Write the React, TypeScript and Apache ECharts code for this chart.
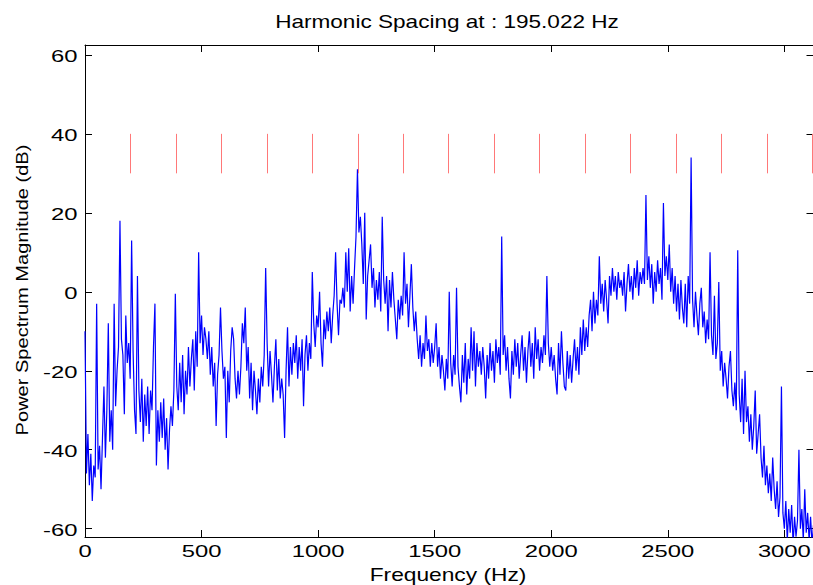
import React, { useEffect, useRef } from "react";
import * as echarts from "echarts";

const TITLE = "Harmonic Spacing at : 195.022 Hz";
const X_NAME = "Frequency (Hz)";
const Y_NAME = "Power Spectrum Magnitude (dB)";

const X_TICKS = [0, 500, 1000, 1500, 2000, 2500, 3000];
const Y_TICKS = [-60, -40, -20, 0, 20, 40, 60];

// Harmonic marker frequencies (Hz), drawn from 30 to 40 dB
const HARMONICS_HZ = [
  195.02, 390.04, 585.07, 780.09, 975.11, 1170.13, 1365.15, 1560.18,
  1755.2, 1950.22, 2145.24, 2340.26, 2535.29, 2730.31, 2925.33, 3120.35,
];
const HARMONIC_LOW_DB = 30;
const HARMONIC_HIGH_DB = 40;

// Spectrum sampled every 6.25 Hz starting at 0 Hz
const FREQ_STEP_HZ = 6.25;
const SPECTRUM_DB = [
  // 0-94
  -10, -46, -36, -49, -41, -53, -44, -47, -3, -45, -39, -50, -37, -24, -42, -30,
  // 100-194
  -8, -38, -30, -40, -3, -29, -20, -14, 18, -12, -16, -31, -6, -18, -13, -22,
  // 200-294
  13, -15, -30, -36, 4, -25, -33, -22, -38, -26, -34, -24, -36, -25, -30, -14,
  // 300-394
  -3, -44, -30, -38, -28, -37, -27, -40, -32, -45, -35, -29, -34, -25, -0.5, -24,
  // 400-494
  -30, -18, -28, -16, -31, -20, -26, -14, -24, -17, -12, -25, -10, -19, 10, -13,
  // 500-594
  -6, -16, -9, -12, -17, -10, -21, -14, -24, -18, -34, -21, -16, -4, -15, -22,
  // 600-694
  -19, -37, -20, -28, -15, -9, -12, -22, -27, -20, -26, -19, -8, -13, -4, -20,
  // 700-794
  -14, -27, -18, -30, -20, -25, -31, -22, -28, -19, -24, -16, 6, -13, -24, -15,
  // 800-894
  -21, -28, -19, -12, -25, -17, -27, -22, -26, -37, -20, -9, -24, -14, -21, -13,
  // 900-994
  -18, -11, -22, -14, -20, -12, -29, -16, -11, -20, -13, -17, 5, -8, -14, -6,
  // 1000-1094
  -9, 0, -13, -19, -7, -12, -5, -10, -4, -13, -6, -1, 10, -3, -11, -2,
  // 1100-1194
  -3, 1, -4, 10, 0, 11, -5, 4, -3, 6, 14, 31, 15, 19, 12, 2,
  // 1200-1294
  20, -7, 4, 8, 12, 1, 6, -4, 3, -2, 5, -5, 19, 3, -3, 4,
  // 1300-1394
  -10, 3, -4, 5, -2, -7, -12, -2, -7, -1, -6, 10, -3, 2, -9, -1,
  // 1400-1494
  7, -4, -10, -5, -12, -17, -11, -19, -13, -17, -6, -15, -12, -19, -13, -18,
  // 1500-1594
  -14, -8, -19, -14, -22, -16, -20, -25, -17, -22, 0, -18, -24, -16, -21, 1,
  // 1600-1694
  -19, -24, -28, -16, -23, -13, -26, -17, -22, -9, -20, -10, -24, -13, -19, -15,
  // 1700-1794
  -21, -14, -19, -27, -16, -22, -13, -20, -15, -23, -12, -18, -14, -21, 14, -16,
  // 1800-1894
  -11, -20, -14, -22, -27, -15, -21, -12, -19, -13, -22, -16, -11, -20, -14, -23,
  // 1900-1994
  -15, -10, -19, -13, -22, -9, -17, -12, -20, -14, -18, -11, -16, 4, -13, -19,
  // 2000-2094
  -14, -20, -16, -22, -26, -13, -21, -10, -18, -24, -25, -15, -22, -16, -23, -17,
  // 2100-2194
  -12, -20, -14, -21, -9, -16, -7, -15, -9, -14, -6, -2, -10, 0, -8, -2,
  // 2200-2294
  -6, 9, -3, 2, -5, 3, -2, -8, 4, -1, 6, 0, 4, -2, 5, 1,
  // 2300-2394
  3, -1, 5, -5, 2, 7, 0, 4, -2, 6, 1, 8, -1, 5, 2, 6,
  // 2400-2494
  2, 24.5, 3, 9, 1, 7, -3, 5, 0, 8, 2, 6, -2, 22.5, 4, 9,
  // 2500-2594
  3, 12, 0, 6, -3, 4, -5, 2, -7, 3, -4, -8, 2, -9, 4, -3,
  // 2600-2694
  34, -2, -9, 0, -6, -11, -3, 1, -9, -5, -13, -7, -12, 10, -11, -16,
  // 2700-2794
  -1, -17, -13, 2.5, -20, -15, -24, -18, -22, -27, -19, -15, -25, -29, -23, -30,
  // 2800-2894
  10.5, -26, -33, -22, -36, -20, -33, -29, -38, -31, -40, -34, -25, -41, -36, -31,
  // 2900-2994
  -42, -47, -39, -49, -44, -51, -46, -53, -42, -50, -55, -48, -57, -52, -24, -56,
  // 3000-3094
  -60, -53, -63, -55, -61, -54, -64, -57, -62, -58, -40, -60, -55, -63, -50, -61,
  // 3100-3125
  -56, -63, -57, -64, -59,
];

const X_MIN = 0;
const X_MAX = 3125;
const Y_MIN = -62.1;
const Y_MAX = 62.5;

const FONT = "Liberation Sans, Arial, Helvetica, sans-serif";

export default function App() {
  const ref = useRef<HTMLDivElement>(null);

  useEffect(() => {
    if (!ref.current) return;
    const chart = echarts.init(ref.current, undefined, { renderer: "svg" });

    const spectrum = SPECTRUM_DB.map((v, i) => [i * FREQ_STEP_HZ, v]);
    const harmonicLines = HARMONICS_HZ.map((h) => [
      { coord: [h, HARMONIC_LOW_DB] },
      { coord: [h, HARMONIC_HIGH_DB] },
    ]);

    const axisLineStyle = { color: "#000", width: 1 };
    const tickStyle = { color: "#000", width: 1 };

    const xAxisBase = {
      type: "value",
      min: X_MIN,
      max: X_MAX,
      splitLine: { show: false },
      axisLabel: { show: false },
      axisLine: { show: true, onZero: false, lineStyle: axisLineStyle },
      axisTick: { show: true, inside: true, length: 7, lineStyle: tickStyle, customValues: X_TICKS },
    };
    const yAxisBase = {
      type: "value",
      min: Y_MIN,
      max: Y_MAX,
      splitLine: { show: false },
      axisLabel: { show: false },
      axisLine: { show: true, onZero: false, lineStyle: axisLineStyle },
      axisTick: { show: true, inside: true, length: 7, lineStyle: tickStyle, customValues: Y_TICKS },
    };

    chart.setOption({
      animation: false,
      backgroundColor: "#fff",
      grid: {
        left: 85,
        top: 45,
        width: 728.5,
        height: 492,
        containLabel: false,
        outerBoundsMode: "none",
      },
      xAxis: [
        { ...xAxisBase, position: "bottom" },
        { ...xAxisBase, position: "top" },
      ],
      yAxis: [
        { ...yAxisBase, position: "left" },
        { ...yAxisBase, position: "right" },
      ],
      series: [
        {
          type: "line",
          xAxisIndex: 0,
          yAxisIndex: 0,
          data: spectrum,
          showSymbol: false,
          symbol: "none",
          clip: true,
          lineStyle: { color: "#0000ff", width: 1.2 },
          silent: true,
          markLine: {
            silent: true,
            symbol: ["none", "none"],
            label: { show: false },
            lineStyle: { color: "#ff7878", width: 1, type: "solid" },
            data: harmonicLines,
          },
        },
      ],
    });

    // Tick labels placed through the axes' own scales (text is horizontally stretched as in the source figure)
    const text = (
      x: number,
      y: number,
      s: string,
      size: number,
      align: string,
      scaleX: number,
      rotation = 0
    ) => ({
      type: "text",
      x,
      y,
      rotation,
      scaleX,
      silent: true,
      style: {
        text: s,
        fill: "#000",
        fontSize: size,
        fontFamily: FONT,
        textAlign: align,
        textVerticalAlign: "middle",
      },
    });

    const graphics: any[] = [];
    X_TICKS.forEach((v) => {
      const px = chart.convertToPixel({ xAxisIndex: 0 }, v) as number;
      graphics.push(text(px, 551, String(v), 17, "center", 1.4));
    });
    Y_TICKS.forEach((v) => {
      const py = chart.convertToPixel({ yAxisIndex: 0 }, v) as number;
      graphics.push(text(77.5, py + 0.8, String(v), 17, "right", 1.4));
    });
    graphics.push(text(447, 21.5, TITLE, 17.5, "center", 1.29));
    graphics.push(text(448, 575, X_NAME, 17.5, "center", 1.3));
    graphics.push(text(22, 290, Y_NAME, 17, "center", 1.18, Math.PI / 2));

    chart.setOption({ graphic: graphics });

    return () => chart.dispose();
  }, []);

  return (
    <div
      ref={ref}
      style={{ position: "fixed", left: 0, top: 0, width: 813, height: 585, background: "#fff" }}
    />
  );
}
